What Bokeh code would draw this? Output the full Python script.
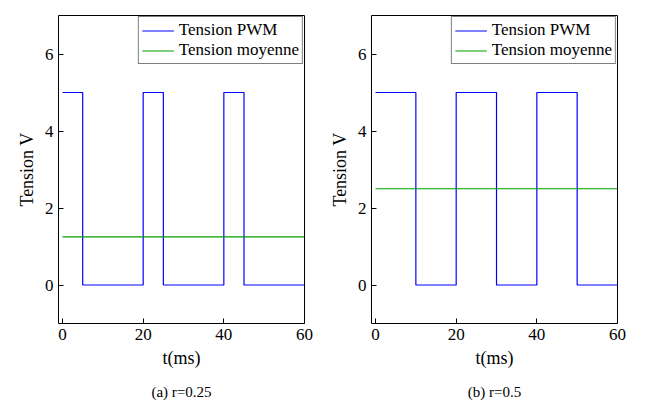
from bokeh.plotting import figure
from bokeh.layouts import row
from bokeh.models import Range1d, FixedTicker, Title, Legend, LegendItem
from bokeh.embed import file_html
from bokeh.resources import INLINE

FONT = "Liberation Serif"

t_a = [0, 5, 5, 20, 20, 25, 25, 40, 40, 45, 45, 60]
v_a = [5, 5, 0, 0, 5, 5, 0, 0, 5, 5, 0, 0]
mean_a = 1.25

t_b = [0, 10, 10, 20, 20, 30, 30, 40, 40, 50, 50, 60]
v_b = [5, 5, 0, 0, 5, 5, 0, 0, 5, 5, 0, 0]
mean_b = 2.5

x_ticks = [0, 20, 40, 60]
y_ticks = [0, 2, 4, 6]


def make_plot(t, v, mean, caption, left_border):
    p = figure(frame_width=246, frame_height=308, output_backend="svg",
               toolbar_location=None, x_range=Range1d(-1, 60), y_range=Range1d(-1, 7),
               min_border_left=left_border, min_border_right=22, min_border_top=15,
               min_border_bottom=10)
    p.grid.visible = False
    p.outline_line_color = "black"
    p.outline_line_alpha = 1
    l1 = p.line(t, v, line_color="#0000ff", line_width=1.2)
    l2 = p.line([0, 60], [mean, mean], line_color="#00a000", line_width=1.2)
    legend = Legend(items=[LegendItem(label="Tension PWM", renderers=[l1]),
                           LegendItem(label="Tension moyenne", renderers=[l2])],
                    location="top_right", border_line_color="black",
                    label_text_font=FONT, label_text_font_size="17px",
                    label_text_color="black",
                    glyph_width=32, spacing=0, padding=3, margin=1,
                    label_height=19, glyph_height=19)
    p.add_layout(legend)
    p.xaxis.ticker = FixedTicker(ticks=x_ticks)
    p.yaxis.ticker = FixedTicker(ticks=y_ticks)
    p.xaxis.axis_label = "t(ms)"
    p.yaxis.axis_label = "Tension V"
    for ax in (p.xaxis[0], p.yaxis[0]):
        ax.axis_line_color = None
        ax.major_tick_in = 5
        ax.major_tick_out = 0
        ax.major_tick_line_color = "black"
        ax.minor_tick_line_color = None
        ax.major_label_text_font = FONT
        ax.major_label_text_font_size = "17px"
        ax.major_label_text_color = "black"
        ax.axis_label_text_font = FONT
        ax.axis_label_text_font_size = "18px"
        ax.axis_label_text_font_style = "normal"
        ax.axis_label_text_color = "black"
    p.add_layout(Title(text=caption, align="center", text_font=FONT,
                       text_font_size="15px", text_font_style="normal",
                       text_color="black", standoff=22), "below")
    return p


p1 = make_plot(t_a, v_a, mean_a, "(a) r=0.25", 58)
p2 = make_plot(t_b, v_b, mean_b, "(b) r=0.5", 43)
p = row(p1, p2)

open("out.html", "w").write(file_html(p, INLINE))
